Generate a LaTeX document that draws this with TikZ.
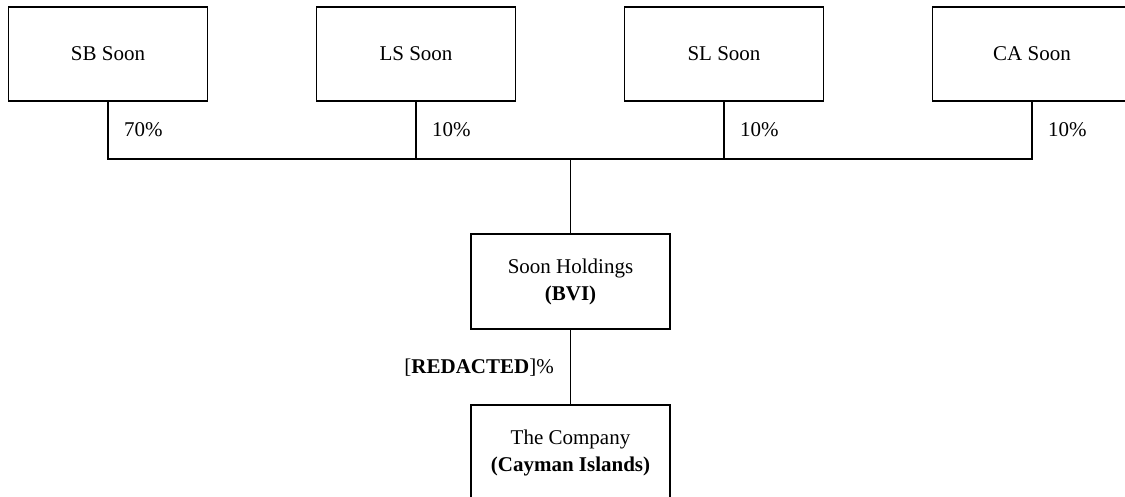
\documentclass[tikz,border=0pt]{standalone}
\usepackage{fontspec}
\setmainfont{Liberation Serif}
\begin{document}
\begin{tikzpicture}[x=1pt,y=-1pt,
  box/.style={draw, line width=1.2pt, minimum width=199pt, minimum height=94pt, align=center, inner sep=0pt, font=\fontsize{21}{27}\selectfont},
  pct/.style={anchor=west, inner sep=0pt, font=\fontsize{21}{27}\selectfont},
  link/.style={line width=1.2pt}]
\useasboundingbox (0,0) rectangle (1125,497);
\clip (0,0) rectangle (1125,497);
\node[box] (sb) at (108,54) {SB Soon};
\node[box] (ls) at (416,54) {LS Soon};
\node[box] (sl) at (724,54) {SL Soon};
\node[box] (ca) at (1032,54) {CA Soon};
\node[box, minimum height=95pt] (hold) at (570.5,281.5) {Soon Holdings\\\textbf{(BVI)}};
\node[box, minimum height=96pt] (co) at (570.5,453) {The Company\\\textbf{(Cayman Islands)}};
\coordinate (bl) at (108,159);
\coordinate (br) at (1032,159);
\coordinate (bm) at (570.5,159);
\draw[link] (sb.south) -- (bl) -- (br) -- (ca.south);
\draw[link] (ls.south) -- (ls.south |- bl);
\draw[link] (sl.south) -- (sl.south |- bl);
\draw[link] (bm) -- (hold.north);
\draw[link] (hold.south) -- (co.north);
\node[pct] (p1) at (124,130) {70\%};
\node[pct] (p2) at (432,130) {10\%};
\node[pct] (p3) at (740,130) {10\%};
\node[pct] (p4) at (1048,130) {10\%};
\node[pct, anchor=east] (pr) at (554,368) {[\textbf{REDACTED}]\%};
\end{tikzpicture}
\end{document}
